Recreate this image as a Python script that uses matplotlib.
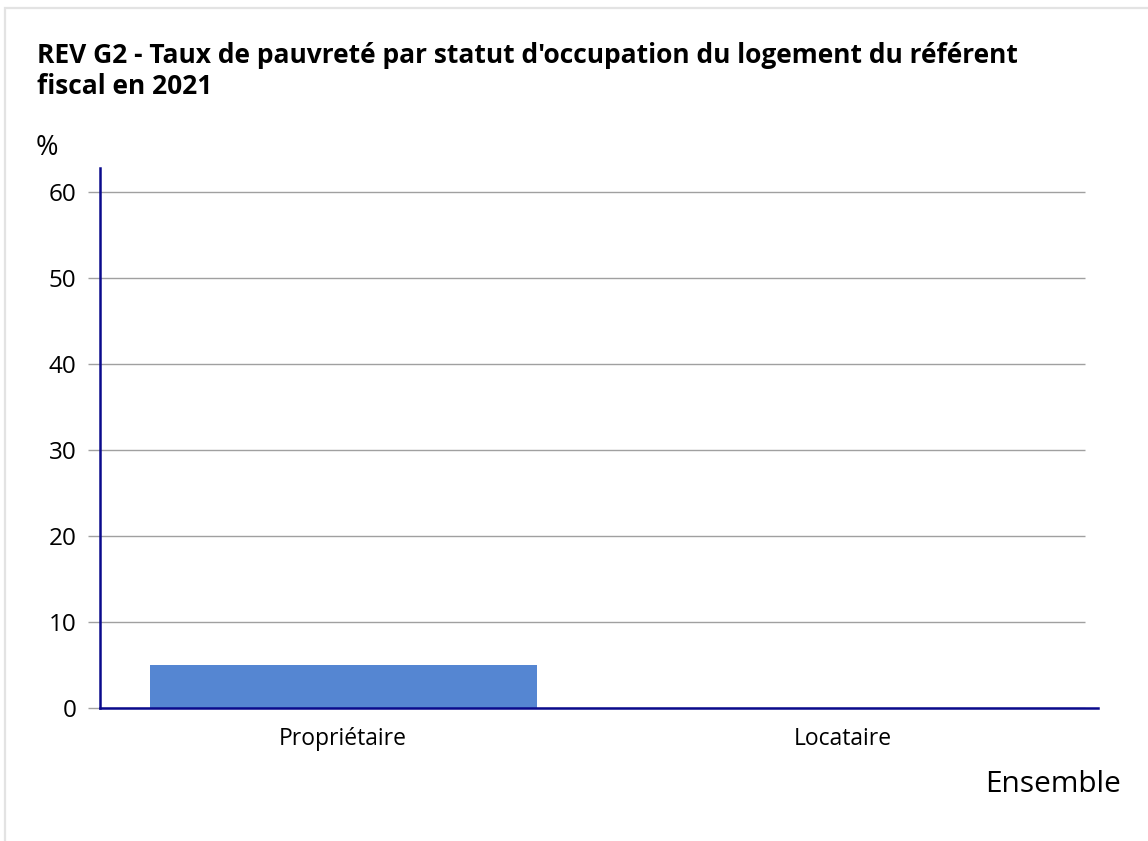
import matplotlib.pyplot as plt
from matplotlib.patches import Rectangle

# ---------------------------------------------------------
# Data
# ---------------------------------------------------------
categories = ["Propriétaire", "Locataire"]
values = [5.0, 0.0]
series_name = "Ensemble"
y_ticks = [0, 10, 20, 30, 40, 50, 60]

title = ("REV G2 - Taux de pauvreté par statut d'occupation du logement du référent\n"
         "fiscal en 2021")

plt.rcParams["font.family"] = ["Open Sans", "DejaVu Sans"]

W, H = 1148, 841
fig = plt.figure(figsize=(W / 100, H / 100), dpi=100)

# light frame around the chart
fig.patches.append(Rectangle((5 / W, -0.1), 1.2, 1 - 8 / H + 0.1, transform=fig.transFigure,
                             fill=False, edgecolor="#e3e3e3", linewidth=1.6))

ax = fig.add_axes([100 / W, 1 - 708 / H, (1098 - 100) / W, (708 - 168) / H])

x = list(range(len(categories)))
ax.bar(x, values, width=0.774, color="#5586d2", zorder=2)

ax.set_xlim(-0.486, 1.51)
ax.set_ylim(0, 62.8)

# horizontal grid lines, stopping short of the right end of the x axis
ax.hlines(y_ticks, 0, 0.987, transform=ax.get_yaxis_transform(), color="#a0a0a0",
          linewidth=1, zorder=1)

ax.set_yticks(y_ticks)
ax.set_xticks(x)
ax.set_xticklabels(categories)
ax.tick_params(axis="y", length=9, width=1, color="#a0a0a0", labelsize=17.5, pad=8)
ax.tick_params(axis="x", length=0, labelsize=16.5, pad=14)

for s in ["top", "right"]:
    ax.spines[s].set_visible(False)
for s in ["left", "bottom"]:
    ax.spines[s].set_color("#0a0a8c")
    ax.spines[s].set_linewidth(1.8)
    ax.spines[s].set_zorder(3)

fig.text(37 / W, 1 - 71 / H, title, fontsize=19, fontweight="bold", va="center",
         linespacing=1.2)
fig.text(36 / W, 1 - 148 / H, "%", fontsize=19.5, va="center")
fig.text(1121 / W, 1 - 784 / H, series_name, fontsize=21.5, ha="right", va="center")

fig.savefig("out.png", dpi=100)
